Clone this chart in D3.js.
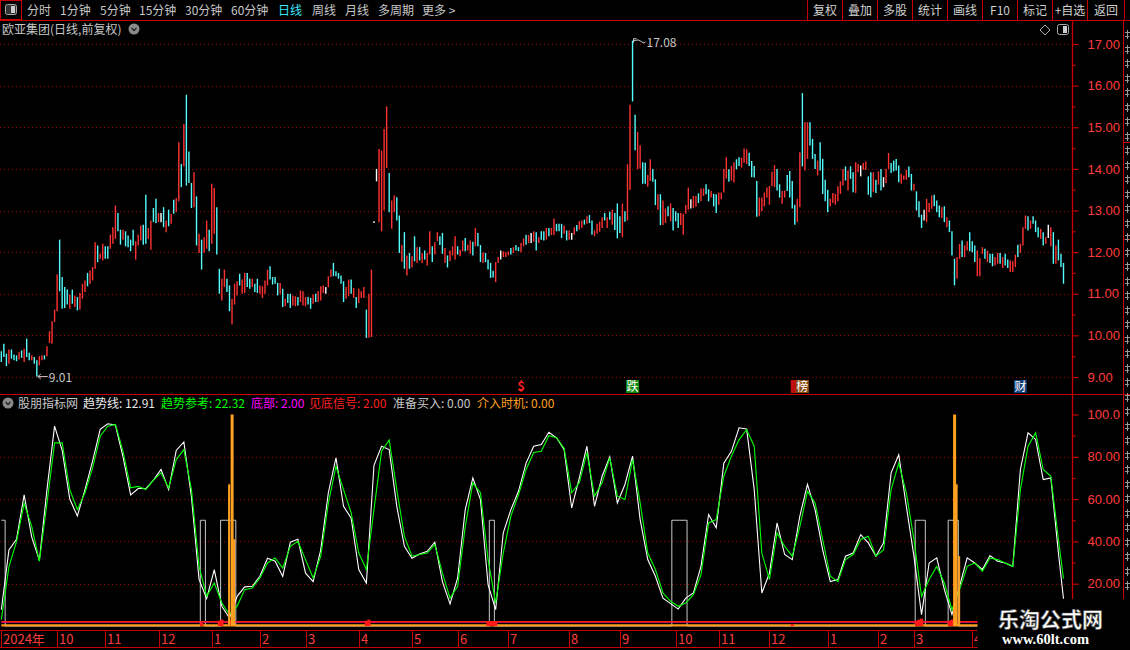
<!DOCTYPE html>
<html>
<head>
<meta charset="utf-8">
<title>欧亚集团 日线</title>
<script src="https://cdn.jsdelivr.net/npm/d3@7"></script>
<style>
body { margin: 0; background: #000; }
svg { display: block; font-family: "Noto Sans CJK SC", "Noto Sans", sans-serif; }
</style>
</head>
<body>
<script>

// daily bars (high / low / colour r=up c=down w=flat)
var highs = [
  9.62,9.80,9.56,9.66,9.66,9.54,9.52,9.60,9.64,9.68,
  9.92,9.58,9.52,9.48,9.40,9.50,9.52,9.52,9.74,10.10,
  10.34,10.62,11.46,12.30,11.40,11.16,11.10,10.98,11.10,10.96,
  10.92,11.02,11.24,11.32,11.50,11.56,11.64,12.24,12.16,11.96,
  12.20,12.14,12.14,12.42,12.60,13.12,12.94,12.54,12.54,12.50,
  12.40,12.30,12.54,12.26,12.42,12.64,12.66,13.38,12.58,12.76,
  13.06,13.28,12.94,12.94,13.08,12.76,13.02,12.92,13.26,13.30,
  14.64,14.12,15.08,15.78,14.42,13.66,13.92,13.34,12.44,12.30,
  12.36,12.76,12.54,13.64,13.54,13.08,11.60,11.36,11.58,11.36,
  11.20,10.88,11.24,11.30,11.48,11.34,11.50,11.50,11.36,11.36,
  11.24,11.36,11.20,11.18,11.32,11.58,11.66,11.40,11.40,11.26,
  11.26,11.12,10.88,11.00,11.00,10.96,10.94,10.92,11.08,11.06,
  10.92,10.92,10.90,10.98,11.00,11.06,11.18,11.20,11.16,11.42,
  11.58,11.74,11.54,11.50,11.44,11.30,11.16,11.34,11.34,11.14,
  10.92,11.12,11.06,11.16,10.62,11.00,11.58,12.74,14.00,14.48,
  14.44,14.96,15.50,13.90,13.24,13.36,13.32,12.88,
  12.17,12.48,11.92,11.98,11.90,12.38,12.12,12.12,11.98,12.04,
  11.98,12.50,12.14,12.24,12.48,12.38,12.46,12.10,11.92,12.04,
  12.14,12.38,12.14,12.06,12.28,12.34,12.18,12.28,12.25,12.58,
  12.46,12.17,12.00,11.98,11.82,11.74,11.55,11.76,11.88,12.04,
  12.02,12.00,12.02,12.10,12.12,12.17,12.12,12.22,12.33,12.42,
  12.41,12.46,12.50,12.48,12.36,12.50,12.50,12.58,12.58,12.58,
  12.81,12.68,12.68,12.68,12.64,12.52,12.52,12.46,12.60,12.65,
  12.74,12.76,12.78,12.86,12.89,12.76,12.52,12.68,12.73,12.84,
  12.94,12.84,12.97,13.02,12.94,13.17,12.86,13.17,12.98,14.11,
  15.54,17.08,15.30,14.89,14.57,14.16,14.15,13.85,14.23,14.00,
  13.75,13.39,13.39,13.24,13.05,13.10,13.17,13.06,12.98,12.94,
  12.94,12.92,13.13,13.55,13.27,13.35,13.35,13.41,13.53,13.53,
  13.63,13.51,13.47,13.40,13.39,13.43,13.43,14.00,14.28,13.99,
  14.07,14.16,14.23,14.28,14.27,14.49,14.47,14.39,14.19,14.07,
  13.71,13.31,13.31,13.43,13.55,13.59,13.93,14.09,14.00,13.63,
  13.47,13.48,13.85,13.95,13.71,13.14,
  13.28,14.40,15.82,15.12,15.12,15.12,14.72,14.36,14.20,14.64,
  14.24,13.74,13.50,13.28,13.42,13.40,13.58,13.70,14.00,14.06,
  13.96,14.06,13.92,14.16,14.12,14.08,14.14,14.18,13.82,13.92,
  13.92,13.74,13.94,14.00,13.80,14.00,14.38,14.14,14.20,14.24,
  14.08,13.88,13.84,13.98,14.06,13.88,13.64,13.46,13.22,12.90,
  13.02,13.28,13.18,13.36,13.38,13.24,13.12,13.08,13.10,12.84,
  12.76,12.50,11.84,11.88,12.20,12.28,12.16,12.26,12.48,12.26,
  12.16,12.04,11.86,12.12,12.08,12.04,11.96,11.96,11.88,11.98,
  11.98,11.88,11.96,11.82,11.80,11.78,11.94,12.18,12.20,12.60,
  12.88,12.86,12.76,12.86,12.76,12.60,12.56,12.48,12.36,12.66,
  12.60,12.48,12.16,12.30,11.96,11.74
];

var lows = [
  9.36,9.48,9.26,9.32,9.44,9.40,9.38,9.42,9.46,9.36,
  9.48,9.40,9.40,9.32,9.01,9.28,9.40,9.42,9.50,9.82,
  9.80,10.32,10.58,11.06,10.64,10.66,10.74,10.64,10.76,10.68,
  10.60,10.62,10.88,11.04,11.18,11.24,11.32,11.60,11.76,11.84,
  11.80,11.84,11.84,12.08,12.20,12.32,12.50,12.18,12.30,12.14,
  12.12,12.02,12.16,11.82,12.16,12.28,12.18,12.20,12.32,12.06,
  12.72,12.70,12.72,12.72,12.60,12.48,12.62,12.68,12.92,12.96,
  13.22,13.56,14.06,13.60,13.66,13.06,13.08,12.16,11.98,11.58,
  11.98,12.08,12.02,12.20,12.44,11.94,11.00,10.84,11.16,11.04,
  10.58,10.26,10.74,10.96,11.20,11.00,11.02,11.16,11.12,11.16,
  11.04,11.02,11.00,10.90,11.00,11.20,11.34,11.22,11.24,10.96,
  11.00,10.68,10.70,10.78,10.66,10.72,10.70,10.72,10.80,10.72,
  10.70,10.74,10.64,10.76,10.80,10.80,10.84,11.02,11.00,11.16,
  11.40,11.42,11.42,11.36,11.24,10.80,10.88,10.94,11.00,10.90,
  10.66,10.78,10.90,10.90,9.94,9.94,9.96,12.70,13.70,12.72,
  12.50,13.00,14.02,12.96,12.56,12.96,12.76,11.98,
  11.76,11.60,11.44,11.60,11.63,11.78,11.74,11.80,11.74,11.82,
  11.68,11.94,11.76,11.94,12.26,12.17,11.96,11.74,11.63,11.78,
  11.92,11.82,11.94,11.90,12.02,12.02,12.04,11.96,11.92,12.14,
  12.14,11.76,11.74,11.76,11.58,11.38,11.39,11.28,11.74,11.82,
  11.88,11.88,11.92,11.94,11.98,12.04,12.02,12.00,12.14,12.18,
  12.22,12.22,12.25,12.04,12.22,12.30,12.28,12.30,12.38,12.41,
  12.41,12.50,12.50,12.34,12.44,12.28,12.30,12.30,12.42,12.50,
  12.54,12.58,12.66,12.68,12.70,12.42,12.38,12.44,12.49,12.58,
  12.76,12.58,12.78,12.66,12.53,12.33,12.46,12.36,12.73,12.76,
  13.49,15.62,14.45,13.99,14.01,13.64,13.64,13.57,13.71,13.69,
  13.13,13.02,12.65,12.65,12.70,12.86,12.74,12.52,12.74,12.58,
  12.65,12.42,12.92,13.02,13.05,13.06,13.09,13.18,13.22,13.35,
  13.39,13.22,13.31,13.10,12.94,13.14,13.27,13.43,13.77,13.69,
  13.72,13.67,13.99,14.07,14.03,14.15,14.12,14.07,13.80,13.79,
  12.85,12.86,12.98,13.10,13.31,13.14,13.59,13.56,13.48,13.31,
  13.16,13.31,13.47,13.31,13.05,12.66,
  12.72,13.08,14.06,13.96,14.24,14.56,14.24,14.00,13.84,13.96,
  13.40,13.22,12.96,13.10,13.18,13.14,13.22,13.40,13.60,13.72,
  13.48,13.76,13.44,13.42,13.92,13.82,13.98,13.98,13.38,13.32,
  13.44,13.42,13.62,13.48,13.56,13.66,14.00,13.90,13.94,13.96,
  13.68,13.64,13.74,13.74,13.80,13.48,13.48,13.00,12.84,12.58,
  12.76,12.72,12.96,13.04,13.10,12.96,12.84,12.82,12.72,12.60,
  12.48,11.92,11.20,11.36,11.84,11.88,11.88,12.04,12.02,12.00,
  11.76,11.42,11.42,11.96,11.84,11.76,11.74,11.66,11.68,11.72,
  11.72,11.62,11.68,11.62,11.52,11.52,11.64,11.88,11.98,12.16,
  12.56,12.52,12.56,12.68,12.48,12.36,12.32,12.16,12.20,12.34,
  12.14,11.72,11.72,11.80,11.64,11.24
];

var dirs = (
  "cccrcccrcr" + "ccrccrrcrr" + "rrrccccrcr" + "crrrcrrrcr" + "rccrrrccrc" +
  "cccrrrccrr" + "ccrwcrcrcr" + "rcrcccrcrc" + "rrcrrccrrc" + "crrrcrrccr" +
  "ccrrrrcccc" + "rcrccrrcrr" + "rccrcrrrwr" + "rcccccrrcr" + "crrrcrrwwr" +
  "rrrcrrcc" +
  "rcrcrcrcrc" + "rrcrrccrcr" + "rrcrrcrrcr" + "ccrccccrrw" + "rrrcrccrrc" +
  "rwrcrccrcr" + "rcccrcrwrc" + "rrcrccrrrr" + "crcrcccrcr" + "rccrrccrrc" +
  "crcrrcrccc" + "rrrrwrrcrr" + "ccrccrrrrc" + "rrccrrrccc" + "crrrrrrrcc" +
  "rrcccc" +
  "rrcrrcccrc" + "cccrrrrrrc" + "rccrrwrrcc" + "rcrcwrrccc" + "crrrccrccc" +
  "wrrrcccrcr" + "cccrrcrrcc" + "crrrcrccrr" + "crccrrrcrr" + "rcrcccrcrw" +
  "rcrccc"
).split("");

// indicator, sampled every third bar (last bar appended)
var trendLine = [
  7.7,36,41,62,42,31,64.5,94.5,83,60,
  52,64.5,78,93,95.6,95,80,62,65,65,
  69,74,64.5,83,87,61,22,13,26.7,9.3,
  3.8,14,18.5,18.8,23.5,32,30.6,23.5,39.6,41,
  25,21,36,63,79.5,56.6,51,26.7,20.3,76,
  85,83.4,56.6,37.7,32,34,35.3,39.6,21,10.4,
  22.7,55,70,59.8,19.6,7.7,44,55,63.7,77,
  85,85.8,91.6,89,83.4,55.8,70,85,56.6,70.8,
  80,58.2,66.9,80.3,50.3,31.4,23.5,13.2,10.6,8,
  13.2,15.6,28.2,52.7,46.4,77,82.6,93.7,93.2,
  64.5,15.6,25,48.7,33.8,31.4,52,67,55,36,
  21,22,33,34.5,43.2,39.3,33,39.3,72.4,81,
  56.6,33,5.4,29.8,32.2,17.2,5.4,18.8,32.2,29.8,
  26.7,33.3,30.6,29.8,28.2,74,91.3,88.2,69.2,70,
  34.5,12.91
];
var trendRef = [
  3,28,40,58,47,30.6,58,86.6,86.6,64.5,
  55,63,74.8,89.7,94.5,95.3,82.6,65.3,66,64.5,
  69,72.4,65.3,78.7,83.4,64.5,28.2,14,20.3,10.9,
  5.4,9.3,17.2,18,22.7,29.8,32.2,27.4,37.7,40,
  31.4,22.7,33,58,75.5,64.5,53.5,34.5,26.7,55,
  82.6,88,64.5,42.4,33,33.8,34.5,38.5,25,13.2,
  18.8,47,67.7,63,31.4,10.9,34.5,52,62,74,
  82,82.6,90,89,84,63,67.7,82,61.4,67.7,
  79.5,61.4,59.8,78.7,58.2,34.5,26.7,15.6,11.7,9.3,
  10.9,14.8,24.3,48.7,50.3,70.8,80.3,88,92.9,
  85,34.5,22,44,37.7,33,47,63.7,58.2,40.9,
  23.5,21,31.4,33.8,40.9,42.4,33,36,64.5,77,
  63,40.9,14,22,28.2,20.3,7.7,17.2,28.2,29.8,
  25.9,32.2,31.4,29.8,28.2,64.5,85,91.3,74,70.8,
  40.9,22.32
];

var bottomLevel = 2;        // 底部 / 见底信号 level
var readyDays = [0,1,79,80,87,88,89,90,91,92,193,194,265,266,267,268,269,270,361,362,363,364,374,375,376,377];
var readyValue = 50;
var entryDays = [90,91,92,376,377,378];
var entryVals = [67,100,41,100,67,33];
var signalDays = [79,86,87,90,91,144,145,192,193,194,195,312,361,362,363,374,375,376];
var signalVals = [1.5,2.5,3,2.5,3,2.5,3,2,2,2,2,1,2.5,3,3.5,2.5,3,3.5];

var monthDays = [0,22,41,62,83,102,120,141,162,180,200,224,244,266,283,303,326,346,360,383];
var monthLabels = ["2024年","10","11","12","1","2","3","4","5","6","7","8","9","10","11","12","1","2","3","4"];

var eventDays = [205,249,315,402];
var eventLabels = ["$","跌","榜","财"];

var periods = ["分时","1分钟","5分钟","15分钟","30分钟","60分钟","日线","周线","月线","多周期","更多 >"];
var buttons = ["复权","叠加","多股","统计","画线","F10","标记","+自选","返回"];

var N = highs.length,
    axisX = 1072,
    red = "#c80000",
    gridRed = "#a00000",
    labelRed = "#ff3c3c";

var colorOf = {r: "#ff3232", c: "#54fcfc", w: "#ffffff"};

var x = d3.scaleLinear().domain([0, N - 1]).range([1.33, 1063.5]),
    yP = d3.scaleLinear().domain([9, 17]).range([377, 44]),
    yI = d3.scaleLinear().domain([0, 100]).range([626, 414.5]);

var svg = d3.select("body").append("svg")
    .attr("width", 1130)
    .attr("height", 650);

svg.append("rect").attr("width", 1130).attr("height", 650).attr("fill", "#000");

// ---- toolbar
var periodX = [27, 60, 100, 139, 185, 231, 278, 312, 345, 378, 422];
svg.append("rect").attr("x", 0.5).attr("y", 0.5).attr("width", 21).attr("height", 19)
    .attr("fill", "none").attr("stroke", red);
svg.append("rect").attr("x", 5.5).attr("y", 4.5).attr("width", 11).attr("height", 10).attr("rx", 2)
    .attr("fill", "#333").attr("stroke", "#aaa");
svg.append("rect").attr("x", 11).attr("y", 6).attr("width", 4).attr("height", 7).attr("fill", "#ccc");

svg.append("g").selectAll("text").data(periods).join("text")
    .attr("x", function(d, i) { return periodX[i]; })
    .attr("y", 15)
    .attr("font-size", 12)
    .attr("fill", function(d) { return d === "日线" ? "#3ce6ff" : "#c8c8c8"; })
    .text(function(d) { return d; });

var sepX = [807, 842, 877, 912, 947, 982, 1017, 1052, 1087, 1124];
svg.append("g").selectAll("line").data(sepX).join("line")
    .attr("x1", function(d) { return d + 0.5; }).attr("x2", function(d) { return d + 0.5; })
    .attr("y1", 0).attr("y2", 20)
    .attr("stroke", red);
svg.append("g").selectAll("text").data(buttons).join("text")
    .attr("x", function(d, i) { return (sepX[i] + sepX[i + 1]) / 2 + 0.5; })
    .attr("y", 15)
    .attr("text-anchor", "middle")
    .attr("font-size", 12)
    .attr("fill", "#d0d0d0")
    .text(function(d) { return d; });

svg.append("line").attr("x1", 0).attr("x2", 1130).attr("y1", 20.5).attr("y2", 20.5).attr("stroke", red);

// ---- price panel header
svg.append("text").attr("x", 2).attr("y", 34).attr("font-size", 12).attr("fill", "#c8c8c8")
    .text("欧亚集团(日线,前复权)");
function chevron(cx, cy) {
  svg.append("circle").attr("cx", cx).attr("cy", cy).attr("r", 5.5).attr("fill", "#8a8a8a");
  svg.append("path").attr("d", "M" + (cx - 2.5) + "," + (cy - 1) + "L" + cx + "," + (cy + 1.5) + "L" + (cx + 2.5) + "," + (cy - 1))
      .attr("fill", "none").attr("stroke", "#222").attr("stroke-width", 1.3);
}
chevron(134, 29);
svg.append("path").attr("d", "M1045,25L1050,30L1045,35L1040,30Z").attr("fill", "none").attr("stroke", "#aaa");
svg.append("rect").attr("x", 1057.5).attr("y", 24.5).attr("width", 11).attr("height", 10).attr("rx", 2)
    .attr("fill", "none").attr("stroke", "#aaa");
svg.append("rect").attr("x", 1063).attr("y", 26).attr("width", 4).attr("height", 7).attr("fill", "#ccc");

// ---- price grid
svg.append("g").selectAll("line").data(d3.range(9, 18)).join("line")
    .attr("x1", 0).attr("x2", axisX)
    .attr("y1", function(d) { return Math.round(yP(d)) + 0.5; })
    .attr("y2", function(d) { return Math.round(yP(d)) + 0.5; })
    .attr("stroke", gridRed)
    .attr("stroke-dasharray", "1,3");

// ---- candles
svg.append("g").selectAll("line").data(d3.range(N)).join("line")
    .attr("x1", function(i) { return x(i); })
    .attr("x2", function(i) { return x(i); })
    .attr("y1", function(i) { return yP(highs[i]); })
    .attr("y2", function(i) { return Math.max(yP(lows[i]), yP(highs[i]) + 1.2); })
    .attr("stroke", function(i) { return colorOf[dirs[i]] || colorOf.c; })
    .attr("stroke-width", 1.4);

// high / low notes
var iMin = d3.minIndex(lows), iMax = d3.maxIndex(highs);
var lx = x(iMin), ly = yP(lows[iMin]);
svg.append("path").attr("d", "M" + (lx + 1) + "," + ly + "H" + (lx + 11) + "M" + (lx + 4) + "," + (ly - 2.5) + "L" + (lx + 1) + "," + ly + "L" + (lx + 4) + "," + (ly + 2.5))
    .attr("fill", "none").attr("stroke", "#c8c8c8");
svg.append("text").attr("x", lx + 12).attr("y", ly + 5).attr("font-size", 12).attr("fill", "#c8c8c8")
    .text(d3.format(".2f")(lows[iMin]));
var hx = x(iMax), hy = yP(highs[iMax]);
svg.append("path").attr("d", "M" + (hx + 1) + "," + (hy - 2) + "V" + (hy + 2) + "M" + (hx + 1) + "," + (hy - 2) + "H" + (hx + 4) + "M" + (hx + 1) + "," + hy + "Q" + (hx + 6) + "," + (hy - 2) + " " + (hx + 9) + "," + (hy + 1) + "T" + (hx + 13) + "," + (hy + 1))
    .attr("fill", "none").attr("stroke", "#c8c8c8");
svg.append("text").attr("x", hx + 14).attr("y", hy + 6).attr("font-size", 12).attr("fill", "#c8c8c8")
    .text(d3.format(".2f")(highs[iMax]));

// event markers
var eventBg = ["none", "#118a11", "#8b4a12", "#123e78"];
var ev = svg.append("g").selectAll("g").data(eventDays).join("g")
    .attr("transform", function(d) { return "translate(" + x(d) + ",380)"; });
ev.append("rect")
    .attr("x", function(d, i) { return i === 2 ? -9 : -6.5; })
    .attr("width", function(d, i) { return i === 2 ? 18 : 13; })
    .attr("height", 13)
    .attr("fill", function(d, i) { return eventBg[i]; });
ev.filter(function(d, i) { return i === 2; }).append("rect")
    .attr("x", -9).attr("width", 5).attr("height", 13).attr("fill", "#c01010");
ev.append("text")
    .attr("x", function(d, i) { return i === 2 ? 2.5 : 0; })
    .attr("y", 11)
    .attr("text-anchor", "middle")
    .attr("font-size", function(d, i) { return i === 0 ? 13 : 12; })
    .attr("font-weight", function(d, i) { return i === 0 ? "bold" : null; })
    .attr("fill", function(d, i) { return i === 0 ? "#ff2020" : "#fff"; })
    .text(function(d, i) { return eventLabels[i]; });

// panel separator
svg.append("line").attr("x1", 0).attr("x2", 1124).attr("y1", 394.5).attr("y2", 394.5).attr("stroke", red).attr("stroke-width", 1.2);

// ---- price axis
svg.append("line").attr("x1", axisX + 0.5).attr("x2", axisX + 0.5).attr("y1", 20).attr("y2", 394).attr("stroke", red).attr("stroke-width", 1.3);
svg.append("g").attr("transform", "translate(" + (axisX + 0.5) + ",0)")
    .call(d3.axisRight(yP).tickValues(d3.range(9, 18)).tickFormat(d3.format(".2f")).tickSize(6).tickPadding(9));
svg.append("g").attr("transform", "translate(" + (axisX + 0.5) + ",0)")
    .call(d3.axisRight(yP).tickValues(d3.range(9.5, 17.5, 1)).tickFormat("").tickSize(3))
    .select(".domain").remove();

// ---- indicator panel
var sampleDays = d3.range(0, N - 1, 3).concat([N - 1]);

svg.append("g").selectAll("line").data([20, 40, 60, 80]).join("line")
    .attr("x1", 0).attr("x2", axisX)
    .attr("y1", function(d) { return Math.round(yI(d)) + 0.5; })
    .attr("y2", function(d) { return Math.round(yI(d)) + 0.5; })
    .attr("stroke", gridRed)
    .attr("stroke-dasharray", "1,3");

// 准备买入 pulses
var readySet = new Set(readyDays);
var readySeries = d3.range(N).map(function(i) { return readySet.has(i) ? readyValue : 0; });
svg.append("path")
    .attr("d", d3.line().curve(d3.curveStep)
      .x(function(d, i) { return x(i); })
      .y(function(d) { return yI(d); })(readySeries))
    .attr("fill", "none").attr("stroke", "#c8c8c8").attr("stroke-width", 1);

var lineI = d3.line()
    .x(function(d, i) { return x(sampleDays[i]); })
    .y(function(d) { return yI(d); });
svg.append("path").attr("d", lineI(trendLine)).attr("fill", "none").attr("stroke", "#ffffff").attr("stroke-width", 1.1);
svg.append("path").attr("d", lineI(trendRef)).attr("fill", "none").attr("stroke", "#00ff00").attr("stroke-width", 1.1);

// base lines
var flat = d3.line().x(function(d) { return x(d); });
svg.append("path").attr("d", flat.y(yI(bottomLevel))([0, N - 1])).attr("stroke", "#ff00ff").attr("stroke-width", 1.3);
svg.append("path").attr("d", flat.y(yI(bottomLevel))([0, N - 1])).attr("stroke", "#ff1a1a").attr("stroke-width", 1.3);
svg.append("path").attr("d", flat.y(yI(0) - 0.6)([0, N - 1])).attr("stroke", "#ffa020").attr("stroke-width", 2.2);

// 见底信号 sticks
svg.append("g").selectAll("rect").data(signalDays).join("rect")
    .attr("x", function(d) { return x(d) - 1.6; })
    .attr("width", 3.2)
    .attr("y", function(d, i) { return yI(signalVals[i]); })
    .attr("height", function(d, i) { return yI(0) - yI(signalVals[i]); })
    .attr("fill", "#ff1a1a");

// 介入时机 sticks
svg.append("g").selectAll("rect").data(entryDays).join("rect")
    .attr("x", function(d) { return x(d) - 1.4; })
    .attr("width", function(d, i) { return entryVals[i] === 100 ? 3 : 2; })
    .attr("y", function(d, i) { return yI(entryVals[i]); })
    .attr("height", function(d, i) { return yI(0) - yI(entryVals[i]); })
    .attr("fill", "#ffa020");

// indicator header
chevron(8, 403);
var legend = [
  {x: 18,  t: "股朋指标网", c: "#c8c8c8"},
  {x: 83,  t: "趋势线: " + d3.format(".2f")(trendLine[trendLine.length - 1]), c: "#e8e8e8"},
  {x: 161, t: "趋势参考: " + d3.format(".2f")(trendRef[trendRef.length - 1]), c: "#00ff00"},
  {x: 251, t: "底部: " + d3.format(".2f")(bottomLevel), c: "#ff00ff"},
  {x: 309, t: "见底信号: " + d3.format(".2f")(bottomLevel), c: "#ff2020"},
  {x: 393, t: "准备买入: " + d3.format(".2f")(readySeries[N - 1]), c: "#c8c8c8"},
  {x: 477, t: "介入时机: 0.00", c: "#ffa020"}
];
svg.append("g").selectAll("text").data(legend).join("text")
    .attr("x", function(d) { return d.x; })
    .attr("y", 408)
    .attr("font-size", 12)
    .attr("fill", function(d) { return d.c; })
    .text(function(d) { return d.t; });

// indicator axis
svg.append("line").attr("x1", axisX + 0.5).attr("x2", axisX + 0.5).attr("y1", 394).attr("y2", 628).attr("stroke", red).attr("stroke-width", 1.3);
svg.append("g").attr("transform", "translate(" + (axisX + 0.5) + ",0)")
    .call(d3.axisRight(yI).tickValues([20, 40, 60, 80, 100])
      .tickFormat(function(d) { return d === 100 ? "100.0" : d3.format(".2f")(d); })
      .tickSize(6).tickPadding(9));
svg.append("g").attr("transform", "translate(" + (axisX + 0.5) + ",0)")
    .call(d3.axisRight(yI).tickValues([10, 30, 50, 70, 90]).tickFormat("").tickSize(3))
    .select(".domain").remove();

svg.selectAll(".domain").remove();
svg.selectAll(".tick line").attr("stroke", red).attr("stroke-width", 1.2);
svg.selectAll(".tick text").attr("fill", labelRed).attr("font-size", 13)
    .attr("font-family", "'Liberation Sans', sans-serif");

// ---- right side column (cut-off quote panel, only glyph edges show)
svg.append("line").attr("x1", 1123.5).attr("x2", 1123.5).attr("y1", 20).attr("y2", 600).attr("stroke", red);
svg.append("g").selectAll("line").data([142, 239, 337, 394]).join("line")
    .attr("x1", 1123).attr("x2", 1130).attr("y1", function(d) { return d + 0.5; }).attr("y2", function(d) { return d + 0.5; })
    .attr("stroke", red);
var sideRows = d3.range(30, 590, 14.5);
var side = svg.append("g").selectAll("g").data(sideRows).join("g")
    .attr("transform", function(d) { return "translate(1125," + Math.round(d) + ")"; });
side.append("rect").attr("x", 0).attr("y", 2).attr("width", 5).attr("height", 1).attr("fill", "#9a9a9a");
side.append("rect").attr("x", 2).attr("y", 0).attr("width", 1).attr("height", 9).attr("fill", "#9a9a9a");
side.append("rect").attr("x", 0).attr("y", 6).attr("width", 4).attr("height", 1).attr("fill", "#9a9a9a");

// ---- date axis
svg.append("line").attr("x1", 0).attr("x2", 1124).attr("y1", 630.5).attr("y2", 630.5).attr("stroke", red).attr("stroke-width", 1.2);
svg.append("line").attr("x1", 0).attr("x2", 1124).attr("y1", 647.5).attr("y2", 647.5).attr("stroke", red);
var mt = svg.append("g").selectAll("g").data(monthDays).join("g")
    .attr("transform", function(d) { return "translate(" + Math.round(x(d)) + ",0)"; });
mt.append("line").attr("x1", 0.5).attr("x2", 0.5).attr("y1", 630).attr("y2", 647).attr("stroke", red);
mt.append("text").attr("x", 2).attr("y", 644).attr("font-size", 13).attr("fill", labelRed)
    .text(function(d, i) { return monthLabels[i]; });

// ---- watermark corner
svg.append("rect").attr("x", 977.5).attr("y", 599).attr("width", 153).attr("height", 51).attr("fill", "#000");
svg.append("text").attr("x", 998).attr("y", 627).attr("font-size", 21).attr("font-weight", "bold")
    .attr("fill", "#fff").attr("stroke", "#555").attr("stroke-width", 0.6)
    .text("乐淘公式网");
svg.append("text").attr("x", 1002).attr("y", 644).attr("font-size", 14.5).attr("font-weight", "bold")
    .attr("font-family", "'Liberation Serif', serif")
    .attr("fill", "#fff")
    .text("www.60lt.com");

</script>
</body>
</html>
